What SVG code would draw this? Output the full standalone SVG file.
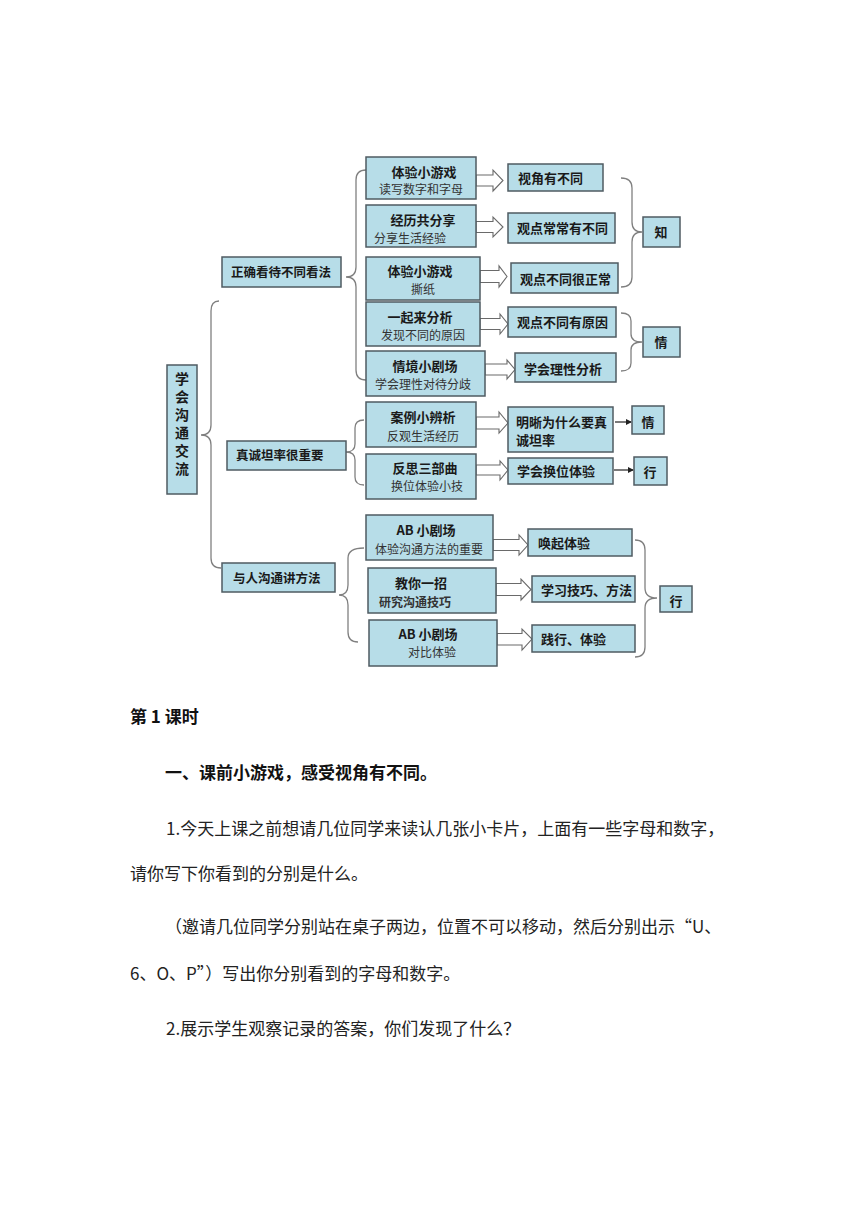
<svg xmlns="http://www.w3.org/2000/svg" width="860" height="1216" viewBox="0 0 860 1216">
<style>
text{font-family:"Noto Sans CJK SC","Noto Sans",sans-serif;dominant-baseline:central}
.box{fill:#b7dde8;stroke:#4f5b62;stroke-width:1.5}
.t{font-size:13px;font-weight:700;fill:#1a1a1a;text-anchor:middle}
.s{font-size:12px;fill:#333;text-anchor:middle}
.r{font-size:13px;font-weight:700;fill:#1a1a1a}
.c{font-size:13px;font-weight:700;fill:#1a1a1a;text-anchor:middle}
.v{font-size:14px;font-weight:700;fill:#1a1a1a;text-anchor:middle}
.g{font-size:12.5px;font-weight:700;fill:#1a1a1a}
.arr{fill:#fff;stroke:#6a6a6a;stroke-width:1.1}
.brace{fill:none;stroke:#808080;stroke-width:1.3}
.ln{stroke:#222;stroke-width:1.2}
.doc{font-size:17px;fill:#222}
.docb{font-size:17px;font-weight:700;fill:#111}
</style>
<defs>
<marker id="ah" markerWidth="6" markerHeight="6" refX="5" refY="3" orient="auto" markerUnits="userSpaceOnUse">
<path d="M0,0 L6,3 L0,6 Z" fill="#222"/>
</marker>
</defs>

<g id="connectors">
<path class="brace" d="M219,301 Q211,301 211,311 L211,425 Q211,435 201,435 Q211,435 211,445 L211,558 Q211,568 221,568"/>
<path class="brace" d="M366,170 Q356,170 356,180 L356,267 Q356,277 346,277 Q356,277 356,287 L356,370 Q356,380 366,380"/>
<path class="brace" d="M364,420 Q355,420 355,428 L355,444 Q355,452 346,452 Q355,452 355,460 L355,477 Q355,485 364,485"/>
<path class="brace" d="M364,548 Q348,548 348,558 L348,585 Q348,595 339,595 Q348,595 348,605 L348,632 Q348,642 358,642"/>
<path class="brace" d="M621,178 Q632,178 632,188 L632,222 Q632,232 642,232 Q632,232 632,242 L632,277 Q632,287 621,287"/>
<path class="brace" d="M621,313 Q631,313 631,321 L631,334 Q631,342 642,342 Q631,342 631,350 L631,363 Q631,371 621,371"/>
<path class="brace" d="M635,540 Q645,540 645,550 L645,588 Q645,598 657,598 Q645,598 645,608 L645,647 Q645,657 635,657"/>
<polygon class="arr" points="476,175 493,175 493,170 503,180.5 493,191 493,186 476,186"/>
<polygon class="arr" points="476,221.5 493,221.5 493,217 503,227 493,237 493,232.5 476,232.5"/>
<polygon class="arr" points="480,270.5 499,270.5 499,266 507,276.5 499,287 499,282.5 480,282.5"/>
<polygon class="arr" points="480,318.5 500,318.5 500,314 508,324 500,334 500,329.5 480,329.5"/>
<polygon class="arr" points="485,364 507,364 507,360 515,369.5 507,379 507,375 485,375"/>
<polygon class="arr" points="476,417 499,417 499,412 508,423 499,433 499,429 476,429"/>
<polygon class="arr" points="476,465 500,465 500,461 508,470 500,480 500,475 476,475"/>
<polygon class="arr" points="493,539.5 519,539.5 519,535 528,545 519,555 519,550.5 493,550.5"/>
<polygon class="arr" points="496,583.5 521,583.5 521,579 531,589.5 521,600 521,595.5 496,595.5"/>
<polygon class="arr" points="497,633.5 522,633.5 522,629 532,639 522,650 522,645 497,645"/>
<line class="ln" x1="615" y1="422" x2="631" y2="422" marker-end="url(#ah)"/>
<line class="ln" x1="614" y1="470" x2="633" y2="470" marker-end="url(#ah)"/>
</g>

<g id="root">
<rect class="box" x="167" y="365" width="30" height="129"/>
<text class="v" x="182" y="378">学</text>
<text class="v" x="182" y="396">会</text>
<text class="v" x="182" y="414">沟</text>
<text class="v" x="182" y="432">通</text>
<text class="v" x="182" y="450">交</text>
<text class="v" x="182" y="468">流</text>
</g>

<g id="g1">
<rect class="box" x="222" y="257" width="119" height="30"/>
<text class="g" x="231" y="271">正确看待不同看法</text>
</g>
<g id="g2">
<rect class="box" x="227" y="441" width="119" height="29"/>
<text class="g" x="236" y="454">真诚坦率很重要</text>
</g>
<g id="g3">
<rect class="box" x="222" y="563" width="113" height="29"/>
<text class="g" x="233" y="577">与人沟通讲方法</text>
</g>

<g id="a1">
<rect class="box" x="366" y="157" width="110" height="42"/>
<text class="t" x="424" y="171">体验小游戏</text>
<text class="s" x="421" y="188">读写数字和字母</text>
</g>
<g id="a2">
<rect class="box" x="366" y="205" width="110" height="42"/>
<text class="t" x="423" y="219">经历共分享</text>
<text class="s" x="410" y="237">分享生活经验</text>
</g>
<g id="a3">
<rect class="box" x="366" y="257" width="114" height="43"/>
<text class="t" x="420" y="270.5">体验小游戏</text>
<text class="s" x="423" y="288">撕纸</text>
</g>
<g id="a4">
<rect class="box" x="366" y="302" width="114" height="44"/>
<text class="t" x="420" y="316">一起来分析</text>
<text class="s" x="423" y="334">发现不同的原因</text>
</g>
<g id="a5">
<rect class="box" x="366" y="351" width="119" height="45"/>
<text class="t" x="425" y="365">情境小剧场</text>
<text class="s" x="423" y="383">学会理性对待分歧</text>
</g>
<g id="b1">
<rect class="box" x="366" y="402" width="110" height="45"/>
<text class="t" x="423" y="416">案例小辨析</text>
<text class="s" x="423" y="435">反观生活经历</text>
</g>
<g id="b2">
<rect class="box" x="366" y="454" width="110" height="45"/>
<text class="t" x="425" y="467">反思三部曲</text>
<text class="s" x="427" y="485">换位体验小技</text>
</g>
<g id="c1">
<rect class="box" x="366" y="515" width="127" height="45"/>
<text class="t" x="426" y="529">AB 小剧场</text>
<text class="s" x="429" y="548">体验沟通方法的重要</text>
</g>
<g id="c2">
<rect class="box" x="368" y="568" width="128" height="45"/>
<text class="t" x="421" y="582">教你一招</text>
<text class="s" style="font-weight:700" x="415" y="601">研究沟通技巧</text>
</g>
<g id="c3">
<rect class="box" x="369" y="620" width="128" height="46"/>
<text class="t" x="428" y="633">AB 小剧场</text>
<text class="s" x="432" y="651">对比体验</text>
</g>

<g id="r1"><rect class="box" x="508" y="164" width="95" height="27"/><text class="r" x="518" y="177">视角有不同</text></g>
<g id="r2"><rect class="box" x="508" y="213" width="107" height="30"/><text class="r" x="517" y="227">观点常常有不同</text></g>
<g id="r3"><rect class="box" x="511" y="263" width="107" height="30"/><text class="r" x="520" y="278">观点不同很正常</text></g>
<g id="r4"><rect class="box" x="508" y="307" width="108" height="30"/><text class="r" x="517" y="321">观点不同有原因</text></g>
<g id="r5"><rect class="box" x="515" y="353" width="101" height="29"/><text class="r" x="524" y="368">学会理性分析</text></g>
<g id="r6"><rect class="box" x="508" y="407" width="105" height="45"/><text class="r" x="516" y="421">明晰为什么要真</text><text class="r" x="516" y="439">诚坦率</text></g>
<g id="r7"><rect class="box" x="508" y="458" width="105" height="26"/><text class="r" x="517" y="470">学会换位体验</text></g>
<g id="r8"><rect class="box" x="528" y="529" width="104" height="27"/><text class="r" x="538" y="542">唤起体验</text></g>
<g id="r9"><rect class="box" x="532" y="576" width="103" height="26"/><text class="r" x="541" y="589">学习技巧、方法</text></g>
<g id="r10"><rect class="box" x="532" y="625" width="103" height="27"/><text class="r" x="541" y="638">践行、体验</text></g>

<g id="k1"><rect class="box" x="643" y="217" width="37" height="30"/><text class="c" x="661" y="231">知</text></g>
<g id="k2"><rect class="box" x="643" y="327" width="37" height="30"/><text class="c" x="661" y="341">情</text></g>
<g id="k3"><rect class="box" x="632" y="406" width="32" height="28"/><text class="c" x="648" y="421">情</text></g>
<g id="k4"><rect class="box" x="634" y="457" width="33" height="28"/><text class="c" x="650" y="471">行</text></g>
<g id="k5"><rect class="box" x="660" y="586" width="32" height="26"/><text class="c" x="676" y="600">行</text></g>

<g id="doc">
<text class="docb" x="130" y="715">第 1 课时</text>
<text class="docb" x="165" y="771">一、课前小游戏，感受视角有不同。</text>
<text class="doc" x="166" y="827">1.今天上课之前想请几位同学来读认几张小卡片，上面有一些字母和数字，</text>
<text class="doc" x="130" y="872">请你写下你看到的分别是什么。</text>
<text class="doc" x="165" y="925">（邀请几位同学分别站在桌子两边，位置不可以移动，然后分别出示“U、</text>
<text class="doc" x="130" y="972">6、O、P”）写出你分别看到的字母和数字。</text>
<text class="doc" x="166" y="1027">2.展示学生观察记录的答案，你们发现了什么？</text>
</g>
</svg>
